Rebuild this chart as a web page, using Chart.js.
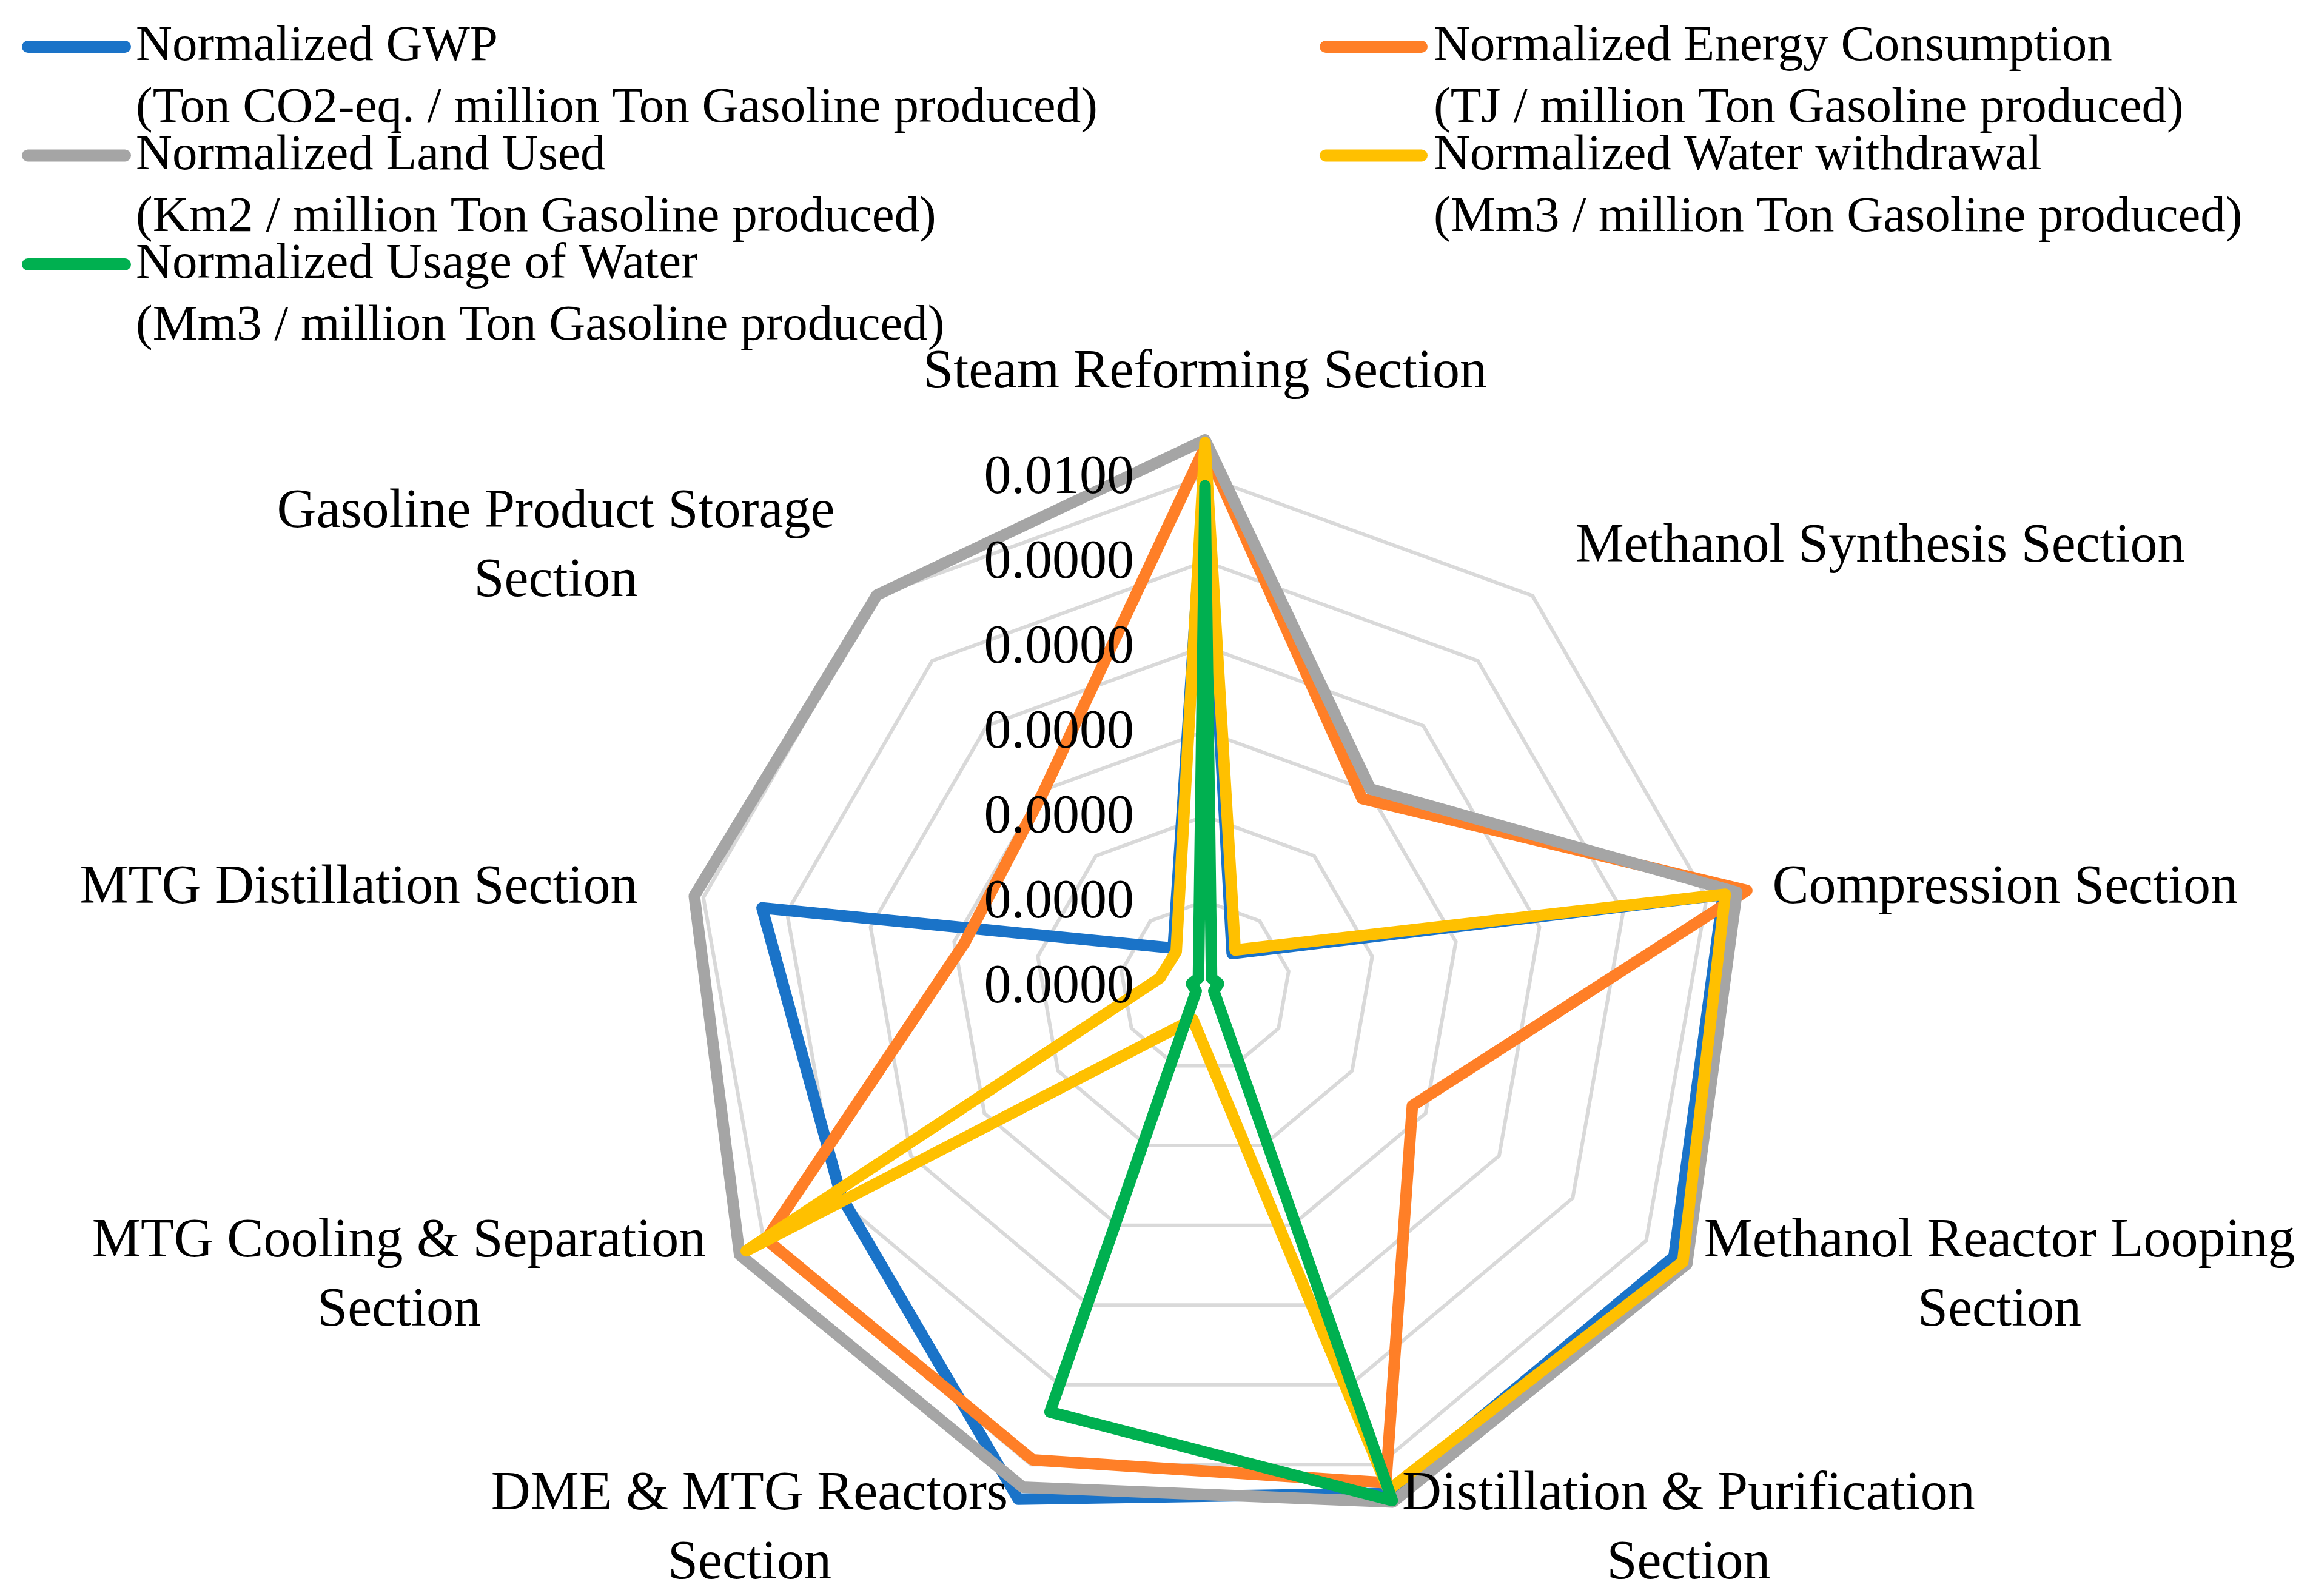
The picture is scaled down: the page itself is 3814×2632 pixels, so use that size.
<!DOCTYPE html>
<html><head><meta charset="utf-8">
<script src="https://cdn.jsdelivr.net/npm/chart.js@4.4.1/dist/chart.umd.min.js"></script>
<style>html,body{margin:0;padding:0;background:#fff;} canvas{display:block;}</style>
</head><body>
<canvas id="c" width="3814" height="2632"></canvas>
<script>
// ---- data ----
const categories = [
  "Steam Reforming Section",
  "Methanol Synthesis Section",
  "Compression Section",
  ["Methanol Reactor Looping", "Section"],
  ["Distillation & Purification", "Section"],
  ["DME & MTG Reactors", "Section"],
  ["MTG Cooling & Separation", "Section"],
  "MTG Distillation Section",
  ["Gasoline Product Storage", "Section"]
];
const seriesNames = [
  "Normalized GWP",
  "Normalized Energy Consumption",
  "Normalized Land Used",
  "Normalized Water withdrawal",
  "Normalized Usage of Water"
];
const seriesUnits = [
  "(Ton CO2-eq. / million Ton Gasoline produced)",
  "(TJ / million Ton Gasoline produced)",
  "(Km2 / million Ton Gasoline produced)",
  "(Mm3 / million Ton Gasoline produced)",
  "(Mm3 / million Ton Gasoline produced)"
];
const gwp        = [0.01017, 0.00083, 0.01033, 0.01063, 0.01060, 0.01072, 0.00825, 0.00883, 0.00097];
const energy     = [0.01058, 0.00480, 0.01080, 0.00470, 0.01038, 0.00990, 0.00995, 0.00480, 0.00495];
const landUsed   = [0.01072, 0.00505, 0.01060, 0.01092, 0.01078, 0.01047, 0.01055, 0.01018, 0.01002];
const withdrawal = [0.01067, 0.00092, 0.01037, 0.01083, 0.01053, 0.00070, 0.01040, 0.00090, 0.00088];
const usage      = [0.00982, 0.00020, 0.00027, 0.00020, 0.01075, 0.00890, 0.00020, 0.00027, 0.00020];
const tickLabels = ["0.0000", "0.0000", "0.0000", "0.0000", "0.0000", "0.0000", "0.0100"];
const axisMin = 0, axisMax = 0.0100;

// ---- styles ----
const colors = ["#1A73C8", "#FF7F27", "#A5A5A5", "#FFC000", "#00B050"];
const seriesData = [gwp, energy, landUsed, withdrawal, usage];
const FONT = '"Liberation Serif", "Times New Roman", serif';

const datasets = seriesData.map((d, i) => ({
  label: seriesNames[i],
  data: d,
  borderColor: colors[i],
  backgroundColor: colors[i],
  borderWidth: 19,
  borderJoinStyle: 'round',
  borderCapStyle: 'round',
  pointRadius: 0,
  pointHoverRadius: 0,
  fill: false,
  tension: 0,
  clip: false,
  order: seriesData.length - i
}));

const overlay = {
  id: 'overlay',
  afterDraw(chart) {
    const ctx = chart.ctx;
    const r = chart.scales.r;
    ctx.save();
    ctx.fillStyle = '#000';
    // tick labels
    ctx.font = '90px ' + FONT;
    ctx.textAlign = 'right';
    ctx.textBaseline = 'middle';
    r.ticks.forEach((t, i) => {
      const d = r.getDistanceFromCenterForValue(t.value);
      ctx.fillText(tickLabels[i], r.xCenter - 117, r.yCenter - d + 3);
    });
    // category labels
    ctx.font = '90px ' + FONT;
    ctx.textAlign = 'center';
    const lh = 114;
    categories.forEach((lab, i) => {
      const lines = Array.isArray(lab) ? lab : [lab];
      const p = r.getPointPosition(i, r.drawingArea + 110);
      const dx = p.x - r.xCenter, dy = p.y - r.yCenter;
      const bw = Math.max(...lines.map(l => ctx.measureText(l).width));
      let cx, cy;
      if (Math.abs(dx) < 5) cx = p.x; else if (dx > 0) cx = p.x + bw / 2; else cx = p.x - bw / 2;
      if (Math.abs(dx) < 5 && dy < 0) cy = p.y - lines.length * lh / 2 - 4;
      else if (Math.abs(dx) < 5) cy = p.y + lines.length * lh / 2;
      else cy = p.y + 4;
      lines.forEach((l, k) => ctx.fillText(l, cx, cy + (k - (lines.length - 1) / 2) * lh));
    });
    // legend
    ctx.font = '83px ' + FONT;
    ctx.textAlign = 'left';
    ctx.textBaseline = 'alphabetic';
    const colSample = [[46, 206], [2186, 2344]];
    const colText = [224, 2364];
    seriesNames.forEach((name, j) => {
      const col = j % 2, row = Math.floor(j / 2);
      const b1 = 99 + row * 179.5;
      const sy = b1 - 22;
      ctx.strokeStyle = colors[j];
      ctx.lineWidth = 20;
      ctx.lineCap = 'round';
      ctx.beginPath();
      ctx.moveTo(colSample[col][0], sy);
      ctx.lineTo(colSample[col][1], sy);
      ctx.stroke();
      ctx.fillText(name, colText[col], b1);
      ctx.fillText(seriesUnits[j], colText[col], b1 + 102);
    });
    ctx.restore();
  }
};

new Chart(document.getElementById('c'), {
  type: 'radar',
  data: { labels: categories, datasets },
  options: {
    responsive: false,
    devicePixelRatio: 1,
    animation: false,
    layout: { padding: { left: 1147, right: 987, top: 786, bottom: 166 } },
    plugins: { legend: { display: false }, tooltip: { enabled: false } },
    scales: {
      r: {
        min: axisMin,
        max: axisMax,
        ticks: { display: false, stepSize: (axisMax - axisMin) / 6 },
        grid: { color: '#D9D9D9', lineWidth: 6 },
        angleLines: { display: false },
        pointLabels: { display: false }
      }
    }
  },
  plugins: [overlay]
});
</script>
</body></html>
